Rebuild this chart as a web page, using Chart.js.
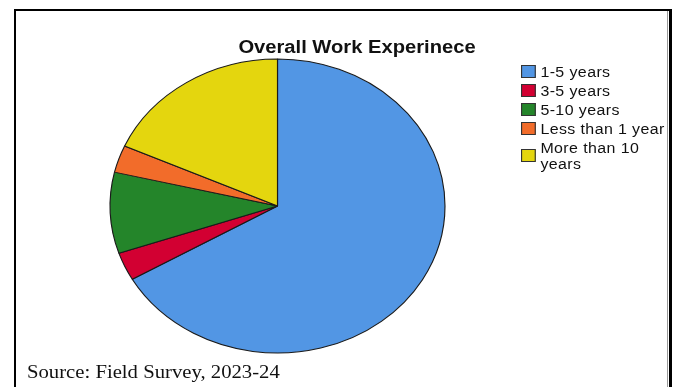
<!DOCTYPE html>
<html>
<head>
<meta charset="utf-8">
<script src="https://cdn.jsdelivr.net/npm/chart.js@4.4.1/dist/chart.umd.min.js"></script>
<style>
  html, body { margin: 0; padding: 0; background: #fff; }
  body { width: 676px; height: 387px; position: relative; overflow: hidden; }
  .frame {
    position: absolute; left: 14px; top: 9px; width: 653px; height: 400px;
    border-top: 2px solid #000; border-left: 2px solid #000; border-right: 3px solid #000;
  }
  .inner-line { position: absolute; left: 667px; top: 11px; width: 1px; height: 380px; background: #999; }
  #pie { position: absolute; left: 0; top: 0; }
  .title {
    position: absolute; left: 56.5px; top: 37px; width: 600px; text-align: center;
    font: bold 18px "Liberation Sans", Arial, sans-serif; line-height: 20px; color: #111;
    transform: scaleX(1.12);
  }
  #legend {
    position: absolute; left: 521px; top: 63.5px; transform: scaleX(1.14); transform-origin: 0 0;
    font: 14px "Liberation Sans", Arial, sans-serif; color: #111; letter-spacing: 0.35px;
  }
  .item { display: flex; align-items: center; margin-bottom: 3px; }
  .box { width: 11px; height: 11px; border: 1px solid #333; flex: none; margin-right: 4px; }
  .txt { line-height: 16px; max-width: 115px; }
  .source {
    position: absolute; left: 27px; top: 361.6px; transform: scaleX(1.15); transform-origin: 0 0;
    font: 18px "Liberation Serif", "Times New Roman", serif; line-height: 20px; color: #111; white-space: nowrap;
  }
</style>
</head>
<body>
<div class="frame"></div>
<div class="inner-line"></div>
<canvas id="pie" width="676" height="387"></canvas>
<div class="title">Overall Work Experinece</div>
<div id="legend"></div>
<div class="source">Source: Field Survey, 2023-24</div>
<script>
const categories = ['1-5 years', '3-5 years', '5-10 years', 'Less than 1 year', 'More than 10 years'];
const shares = [66.7, 3.1, 8.9, 3.0, 18.3];
const sliceColors = ['#5296e4', '#d20032', '#24852a', '#f26c2a', '#e4d60e'];

// the picture is stretched sideways, so the pie is drawn as an ellipse
const stretchX = 167.5 / 147;
const ellipse = {
    id: 'ellipse',
    beforeDatasetsDraw(chart) {
        const a = chart.chartArea;
        const cx = (a.left + a.right) / 2, cy = (a.top + a.bottom) / 2;
        const ctx = chart.ctx;
        ctx.save();
        ctx.translate(cx, cy);
        ctx.scale(stretchX, 1);
        ctx.translate(-cx, -cy);
    },
    afterDatasetsDraw(chart) {
        chart.ctx.restore();
    }
};

new Chart(document.getElementById('pie').getContext('2d'), {
    type: 'pie',
    data: {
        labels: categories,
        datasets: [{
            data: shares,
            backgroundColor: sliceColors,
            borderColor: '#1a1a1a',
            borderWidth: 1
        }]
    },
    options: {
        responsive: false,
        animation: false,
        devicePixelRatio: 1,
        events: [],
        radius: 147,
        layout: { padding: { left: 0, right: 121, top: 25, bottom: 0 } },
        plugins: { legend: { display: false }, title: { display: false }, tooltip: { enabled: false } }
    },
    plugins: [ellipse]
});

const legend = document.getElementById('legend');
categories.forEach((c, i) => {
    const row = document.createElement('div');
    row.className = 'item';
    row.innerHTML = '<span class="box" style="background:' + sliceColors[i] + '"></span><span class="txt">' + c + '</span>';
    legend.appendChild(row);
});
</script>
</body>
</html>
